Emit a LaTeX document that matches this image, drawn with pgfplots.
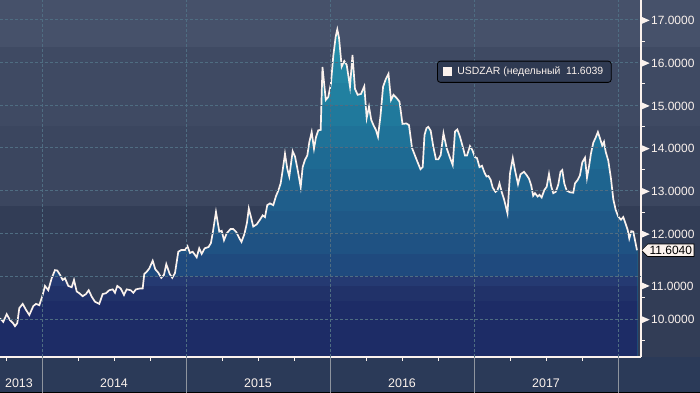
\documentclass[border=0pt]{standalone}
\usepackage{fontspec}
\setmainfont{Liberation Sans}
\usepackage{pgfplots}
\pgfplotsset{compat=1.18}
\usepackage{pgfplotstable}
\usetikzlibrary{shapes.symbols}

\definecolor{cream}{HTML}{FBF2ED}
\definecolor{gridc}{HTML}{4F6D82}
\definecolor{sepc}{HTML}{8E949E}
\definecolor{stripc}{HTML}{2B3A58}
\definecolor{legbg}{HTML}{2F3A52}
% background bands
\definecolor{bgA}{HTML}{46516A}
\definecolor{bgB}{HTML}{3F4A63}
\definecolor{bgC}{HTML}{3B465F}
\definecolor{bgD}{HTML}{323D56}
% fill bands
\definecolor{f01}{HTML}{1D2C66}
\definecolor{f02}{HTML}{213269}
\definecolor{f03}{HTML}{253A72}
\definecolor{f04}{HTML}{1F4A7E}
\definecolor{f05}{HTML}{1F5283}
\definecolor{f06}{HTML}{1F5887}
\definecolor{f07}{HTML}{1F5E8B}
\definecolor{f08}{HTML}{1E648F}
\definecolor{f09}{HTML}{1E6A93}
\definecolor{f10}{HTML}{1F7298}
\definecolor{f11}{HTML}{20799C}
\definecolor{f12}{HTML}{2180A0}
\definecolor{f13}{HTML}{2386A4}
\definecolor{f14}{HTML}{258CA7}
\definecolor{f15}{HTML}{2792AA}

\pgfplotstableread{
px v
0 10.01
3.3 9.93
6.7 10.11
10 9.97
13 9.90
15 9.83
17.3 9.90
19.3 10.25
22.7 10.35
26 10.21
29.3 10.09
33.3 10.30
36 10.35
39.3 10.32
42.7 10.56
45 10.77
48.3 10.67
51.7 10.95
55 11.14
57.3 11.13
60 11.03
62.7 10.91
65 10.95
68.3 10.77
71.7 10.74
74 10.91
76.7 10.64
79.3 10.60
82.7 10.53
86 10.58
88.7 10.67
91.7 10.52
95 10.40
99.3 10.35
102.7 10.58
106 10.60
109.3 10.67
112.7 10.69
115 10.61
117.3 10.77
120.7 10.71
124 10.56
126.7 10.69
130.7 10.67
133.3 10.61
136 10.69
140 10.71
142.7 10.71
144.3 11.05
146.7 11.10
149.3 11.18
152.7 11.36
155.3 11.16
158.3 11.08
161.3 10.96
164 11.03
166.3 11.28
169.7 11.05
172.3 10.96
175 11.07
178.3 11.57
181.3 11.61
185 11.61
187.5 11.70
190 11.54
192.7 11.57
196.7 11.44
199.2 11.65
201.7 11.52
204.7 11.65
208.5 11.68
210.9 11.77
212.7 12.00
216 12.50
219.3 12.04
221.7 12.06
224 11.84
226.7 12.00
230.5 12.10
233.3 12.10
236.3 12.03
239.5 11.88
241.5 11.80
244.5 11.99
247 12.25
248.8 12.58
251 12.38
253.3 12.16
256.7 12.21
260 12.32
262.7 12.42
265 12.38
267.3 12.66
270 12.70
273.3 12.66
276 12.87
278.3 13.00
280.7 13.17
282.7 13.48
285 13.86
287.3 13.51
289.3 13.33
292.7 13.92
295 13.80
297.7 13.48
300.7 13.08
302.7 13.55
305 13.72
307.3 13.82
309.3 14.13
311.7 14.37
314 13.98
316 14.25
318.3 14.41
320.7 14.42
322.5 15.89
325.8 15.12
328.3 15.19
331 15.51
333.3 16.15
335.7 16.60
337.3 16.77
339 16.58
341.7 15.90
344.3 16.03
346.7 15.94
350 15.43
352.5 16.17
355 15.38
357.7 15.24
361 15.26
364.3 15.44
366.7 14.70
369 14.96
371.3 14.65
373.5 14.53
375.9 14.42
378 14.26
380.5 14.75
383.1 15.43
385.7 15.60
388.5 15.73
391 15.12
393.5 15.24
396.8 15.16
399.5 15.08
402.5 14.56
406.5 14.57
409 14.53
412 14.00
414.5 13.85
417 13.70
420.5 13.50
422.7 13.55
424.5 14.30
426.5 14.46
428.3 14.49
430.7 14.40
433.3 14.03
436 13.73
438.3 13.73
440.7 13.83
443.5 14.34
446.7 13.99
449.5 13.80
452.7 13.60
455 14.38
457.3 14.43
460 14.26
462.7 14.03
465 13.82
467 13.82
470 14.04
472.3 13.95
475 13.78
477 13.76
479.5 13.55
482 13.58
484.5 13.42
486.5 13.33
488.5 13.34
490.7 13.25
492.7 13.07
495.5 12.97
497.5 13.01
499.5 13.17
501.7 12.97
504 12.80
507.5 12.47
510 13.40
512.8 13.76
515 13.48
518 13.15
520.5 13.38
524 13.44
526.7 13.36
529 13.28
531.2 13.12
533.2 12.88
535 12.94
537.7 12.86
539.5 12.90
541.7 12.84
544.3 13.01
546.7 13.09
549 13.39
551.2 13.10
553.3 12.94
555.7 12.97
558.3 13.14
560.5 13.44
562.3 13.48
564.3 13.17
566.7 13.00
570 12.96
573.3 12.95
575 13.17
577.7 13.25
580 13.36
582.3 13.66
585 13.77
587 13.30
589 13.56
591 13.87
593.3 14.12
595.7 14.24
597.9 14.37
600.3 14.20
602.3 14.05
604 14.14
605.7 13.91
608.3 13.70
611 13.28
613.3 12.80
615.7 12.55
618.3 12.39
621 12.32
623.3 12.38
625.7 12.22
627.7 12.08
629.3 11.88
631.3 12.05
633.3 12.04
635 11.84
637 11.604
}\usdzar

% x in decimal years: 2014 at px 42, 144 px per year
\newcommand{\band}[2]{%
  \begin{scope}
    \clip (axis cs:2013.70,9.108) rectangle (axis cs:2018.2,#1);
    \addplot[fill=#2, draw=none, forget plot]
      table[x expr={2014+(\thisrow{px}-42)/144}, y=v]{\usdzar} \closedcycle;
  \end{scope}}

\begin{document}
\begin{tikzpicture}
\useasboundingbox (0bp,-36bp) rectangle (700bp,357bp);
\clip (0bp,-36bp) rectangle (700bp,357bp);
\fill[stripc] (0bp,-36bp) rectangle (700bp,0bp);
\draw[black, line width=1.5bp] (0bp,-35.25bp) -- (700bp,-35.25bp);
\begin{axis}[
  at={(0bp,0bp)}, anchor=south west,
  scale only axis, width=641bp, height=357bp,
  clip=false, axis on top,
  xmin=2013.7083, xmax=2018.1597,
  ymin=9.108, ymax=17.458,
  axis x line*=bottom, axis y line*=right,
  axis line style={draw=cream, line width=1.2bp},
  tick align=outside,
  major tick length=0bp, minor tick length=3.5bp,
  minor tick style={draw=cream, line width=0.8bp},
  major x tick style={draw=none},
  major y tick style={draw=none},
  xtick={2013.84,2014.5,2015.5,2016.5,2017.5},
  xticklabels={2013,2014,2015,2016,2017},
  xticklabel style={font=\fontsize{12.5}{14}\selectfont, text=cream, anchor=base, yshift=-30bp},
  minor xtick={2013.75,2014.25,2014.5,2014.75,2015.25,2015.5,2015.75,2016.25,2016.5,2016.75,2017.25,2017.5,2017.75},
  extra x ticks={2014,2015,2016,2017,2018},
  extra x tick labels={,,,,},
  extra x tick style={major tick length=36bp, major x tick style={draw=sepc, line width=0.9bp}, xmajorgrids=true},
  ytick={10,12,13,14,15,16,17},
  minor ytick={9.5,10.5,12.5,13.5,14.5,15.5,16.5},
  extra y ticks={11},
  extra y tick style={ymajorgrids=true, yticklabel style={yshift=-9bp}},
  ymajorgrids=true,
  grid style={draw=gridc, dash pattern=on 2.5bp off 2.5bp, line width=0.7bp},
  yticklabel={\tikz[baseline={(0,-4.3bp)}]\fill[cream] (0bp,-3.5bp) -- (0bp,3.5bp) -- (8bp,0bp) -- cycle;\hspace{1.5bp}\pgfmathprintnumber[fixed,fixed zerofill,precision=4,assume math mode=true]{\tick}},
  yticklabel style={font=\fontsize{12}{14}\selectfont, text=cream, anchor=west, inner xsep=0.5bp, yshift=-1bp},
  legend style={at={(axis description cs:0.818,0.799)}, anchor=center,
    fill=legbg, draw=black, line width=0.8bp, rounded corners=3bp,
    font=\fontsize{10.5}{12}\selectfont, text=cream, inner xsep=6bp, inner ysep=4bp},
  legend cell align=left,
]
% background bands (whole width incl. label strip)
\fill[bgA] (axis cs:2013.70,9.108) rectangle (axis cs:2018.6,17.458);
\fill[bgB] (axis cs:2013.70,9.108) rectangle (axis cs:2018.6,16.35);
\fill[bgC] (axis cs:2013.70,9.108) rectangle (axis cs:2018.6,14.5);
\fill[bgD] (axis cs:2013.70,9.108) rectangle (axis cs:2018.6,12.63);
% banded area under the curve
\band{17.5}{f15}
\band{16.5}{f14}
\band{16.0}{f13}
\band{15.5}{f12}
\band{15.0}{f11}
\band{14.5}{f10}
\band{14.0}{f09}
\band{13.5}{f08}
\band{13.0}{f07}
\band{12.5}{f06}
\band{12.0}{f05}
\band{11.5}{f04}
\band{11.0}{f03}
\band{10.75}{f02}
\band{10.4}{f01}
% the line
\addplot[draw=cream, line width=1.7bp, forget plot]
  table[x expr={2014+(\thisrow{px}-42)/144}, y=v]{\usdzar};
\addlegendimage{legend image code/.code={\fill[cream, draw=none, sharp corners] (0bp,-4.5bp) rectangle (9bp,4.5bp); \path[draw=none, fill=none] (9bp,-1bp) rectangle (12bp,1bp);}}
\addlegendentry{USDZAR (недельный\ \ 11.6039}
% last value callout
\node[signal, signal to=west, fill=cream, draw=black, line width=0.6bp,
      inner xsep=2bp, inner ysep=2bp, anchor=west, text=black,
      font=\fontsize{12}{14}\selectfont] at (axis cs:2018.1597,11.604) {11.6040};
\end{axis}
\end{tikzpicture}
\end{document}
